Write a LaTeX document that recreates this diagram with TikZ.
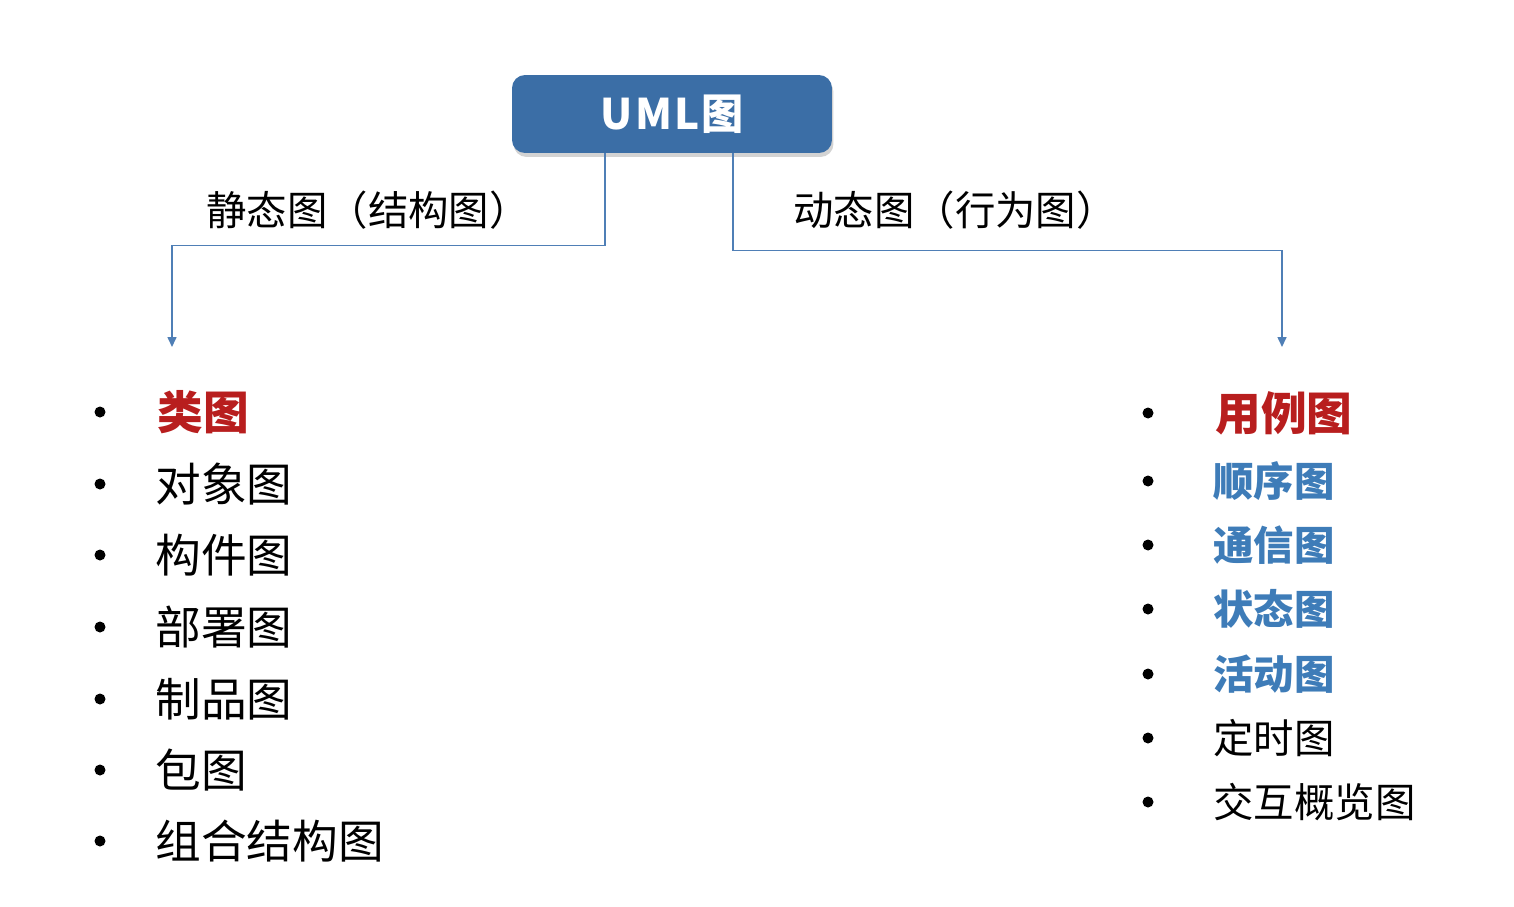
\documentclass[tikz,border=0pt]{standalone}
\usepackage{fontspec}
\setmainfont{Noto Sans CJK SC}
\usetikzlibrary{arrows.meta,shadows}
\definecolor{umlblue}{HTML}{3B6EA6}
\definecolor{linkblue}{HTML}{4F7FB6}
\definecolor{itemred}{HTML}{B81E1E}
\definecolor{itemblue}{HTML}{3E7CB8}

\begin{document}
\begin{tikzpicture}[x=0.02cm,y=-0.02cm]
            \tikzstyle{root} = [fill=umlblue, rounded corners=0.26cm, minimum width=6.4cm, minimum height=1.56cm, text=white, font=\fontsize{24}{28}\selectfont\bfseries, drop shadow={opacity=0.35, shadow xshift=0.03cm, shadow yshift=-0.08cm}]
            \tikzstyle{conn} = [linkblue, line width=0.9pt, -{Triangle[length=0.2cm, width=0.18cm]}]
            \tikzstyle{branch} = [font=\fontsize{23}{27}\selectfont]
            \tikzstyle{dot} = [circle, fill=black, inner sep=0pt, minimum size=0.22cm]
            \tikzstyle{leftitem} = [anchor=west, inner sep=0pt, font=\fontsize{26}{31}\selectfont]
            \tikzstyle{rightitem} = [anchor=west, inner sep=0pt, font=\fontsize{23}{28}\selectfont]
            \tikzstyle{key} = [text=itemred, font=\fontsize{26}{30}\selectfont\bfseries]
            \tikzstyle{dyn} = [text=itemblue, font=\fontsize{23}{28}\selectfont\bfseries]

            \useasboundingbox (0,0) rectangle (1514,906);

            % root box
            \node[root] (uml) at (672,114) {U\kern1.5pt M\kern1.5pt L\kern1pt 图};

            % branch ends
            \coordinate (ltip) at (172,347);
            \coordinate (rtip) at (1282,347);

            \draw [conn] ([xshift=-1.34cm]uml.south) -- ++(0,92) -| (ltip);
            \draw [conn] ([xshift=1.22cm]uml.south) -- ++(0,97) -| (rtip);

            \node[branch] (static) at (368,210) {静态图（结构图）};
            \node[branch] (dynamic) at (955,210) {动态图（行为图）};

            % static diagrams
            \node[dot] (ls1) at (100,412) {};
            \node[leftitem, key] (l1) at (157,412) {类图};
            \foreach \y/\name/\txt in {484/2/对象图, 555/3/构件图, 627/4/部署图, 699/5/制品图, 770/6/包图, 841/7/组合结构图} {
                \node[dot] (ls\name) at (100,\y) {};
                \node[leftitem] (l\name) at (155,\y) {\txt};
            }

            % dynamic diagrams
            \node[dot] (rs1) at (1148,413) {};
            \node[rightitem, key] (r1) at (1215,413) {用例图};
            \foreach \y/\name/\txt in {481/2/顺序图, 545/3/通信图, 609/4/状态图, 674/5/活动图} {
                \node[dot] (rs\name) at (1148,\y) {};
                \node[rightitem, dyn] (r\name) at (1213,\y) {\txt};
            }
            \foreach \y/\name/\txt in {738/6/定时图, 802/7/交互概览图} {
                \node[dot] (rs\name) at (1148,\y) {};
                \node[rightitem] (r\name) at (1213,\y) {\txt};
            }
        \end{tikzpicture}
\end{document}
